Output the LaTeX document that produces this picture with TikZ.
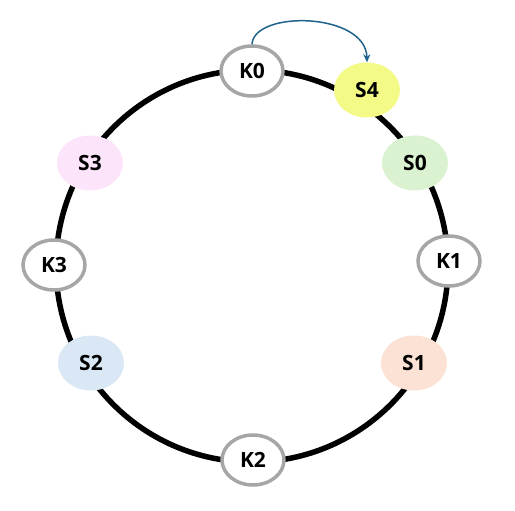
\documentclass[tikz,border=0pt]{standalone}
\usepackage{fontspec}
\setmainfont{Open Sans}
\usetikzlibrary{shapes.geometric, arrows.meta}

\definecolor{ringgray}{RGB}{166,166,166}
\definecolor{arrowblue}{RGB}{31,99,140}
\definecolor{syellow}{RGB}{243,250,133}
\definecolor{sgreen}{RGB}{218,242,208}
\definecolor{spink}{RGB}{252,228,250}
\definecolor{sblue}{RGB}{218,232,246}
\definecolor{speach}{RGB}{251,226,213}

\begin{document}
\begin{tikzpicture}[x=1pt, y=-1pt,
    key/.style={ellipse, draw=ringgray, line width=3.5pt, fill=white, minimum width=62pt, minimum height=50pt, inner sep=0pt, font=\fontsize{21}{21}\selectfont\bfseries},
    srv/.style={ellipse, minimum width=66pt, minimum height=55pt, inner sep=0pt, font=\fontsize{21}{21}\selectfont\bfseries}]
  \useasboundingbox (0,0) rectangle (515,511);
  \draw[line width=5.5pt] (252,266) circle (196);
  % keys
  \node[key] (k0) at (252,71) {K0};
  \node[key] (k1) at (449,261) {K1};
  \node[key] (k2) at (253,460) {K2};
  \node[key] (k3) at (54,265) {K3};
  % servers
  \node[srv, fill=syellow] (s4) at (367,90) {S4};
  \node[srv, fill=sgreen] (s0) at (415,163) {S0};
  \node[srv, fill=speach] (s1) at (414,363) {S1};
  \node[srv, fill=sblue] (s2) at (91,363) {S2};
  \node[srv, fill=spink] (s3) at (90,163) {S3};
  \draw[arrowblue, line width=1.5pt, -{Stealth[length=8pt, width=7pt]}] (k0.north) .. controls (254,10) and (366,12) .. (s4.north);
\end{tikzpicture}
\end{document}
